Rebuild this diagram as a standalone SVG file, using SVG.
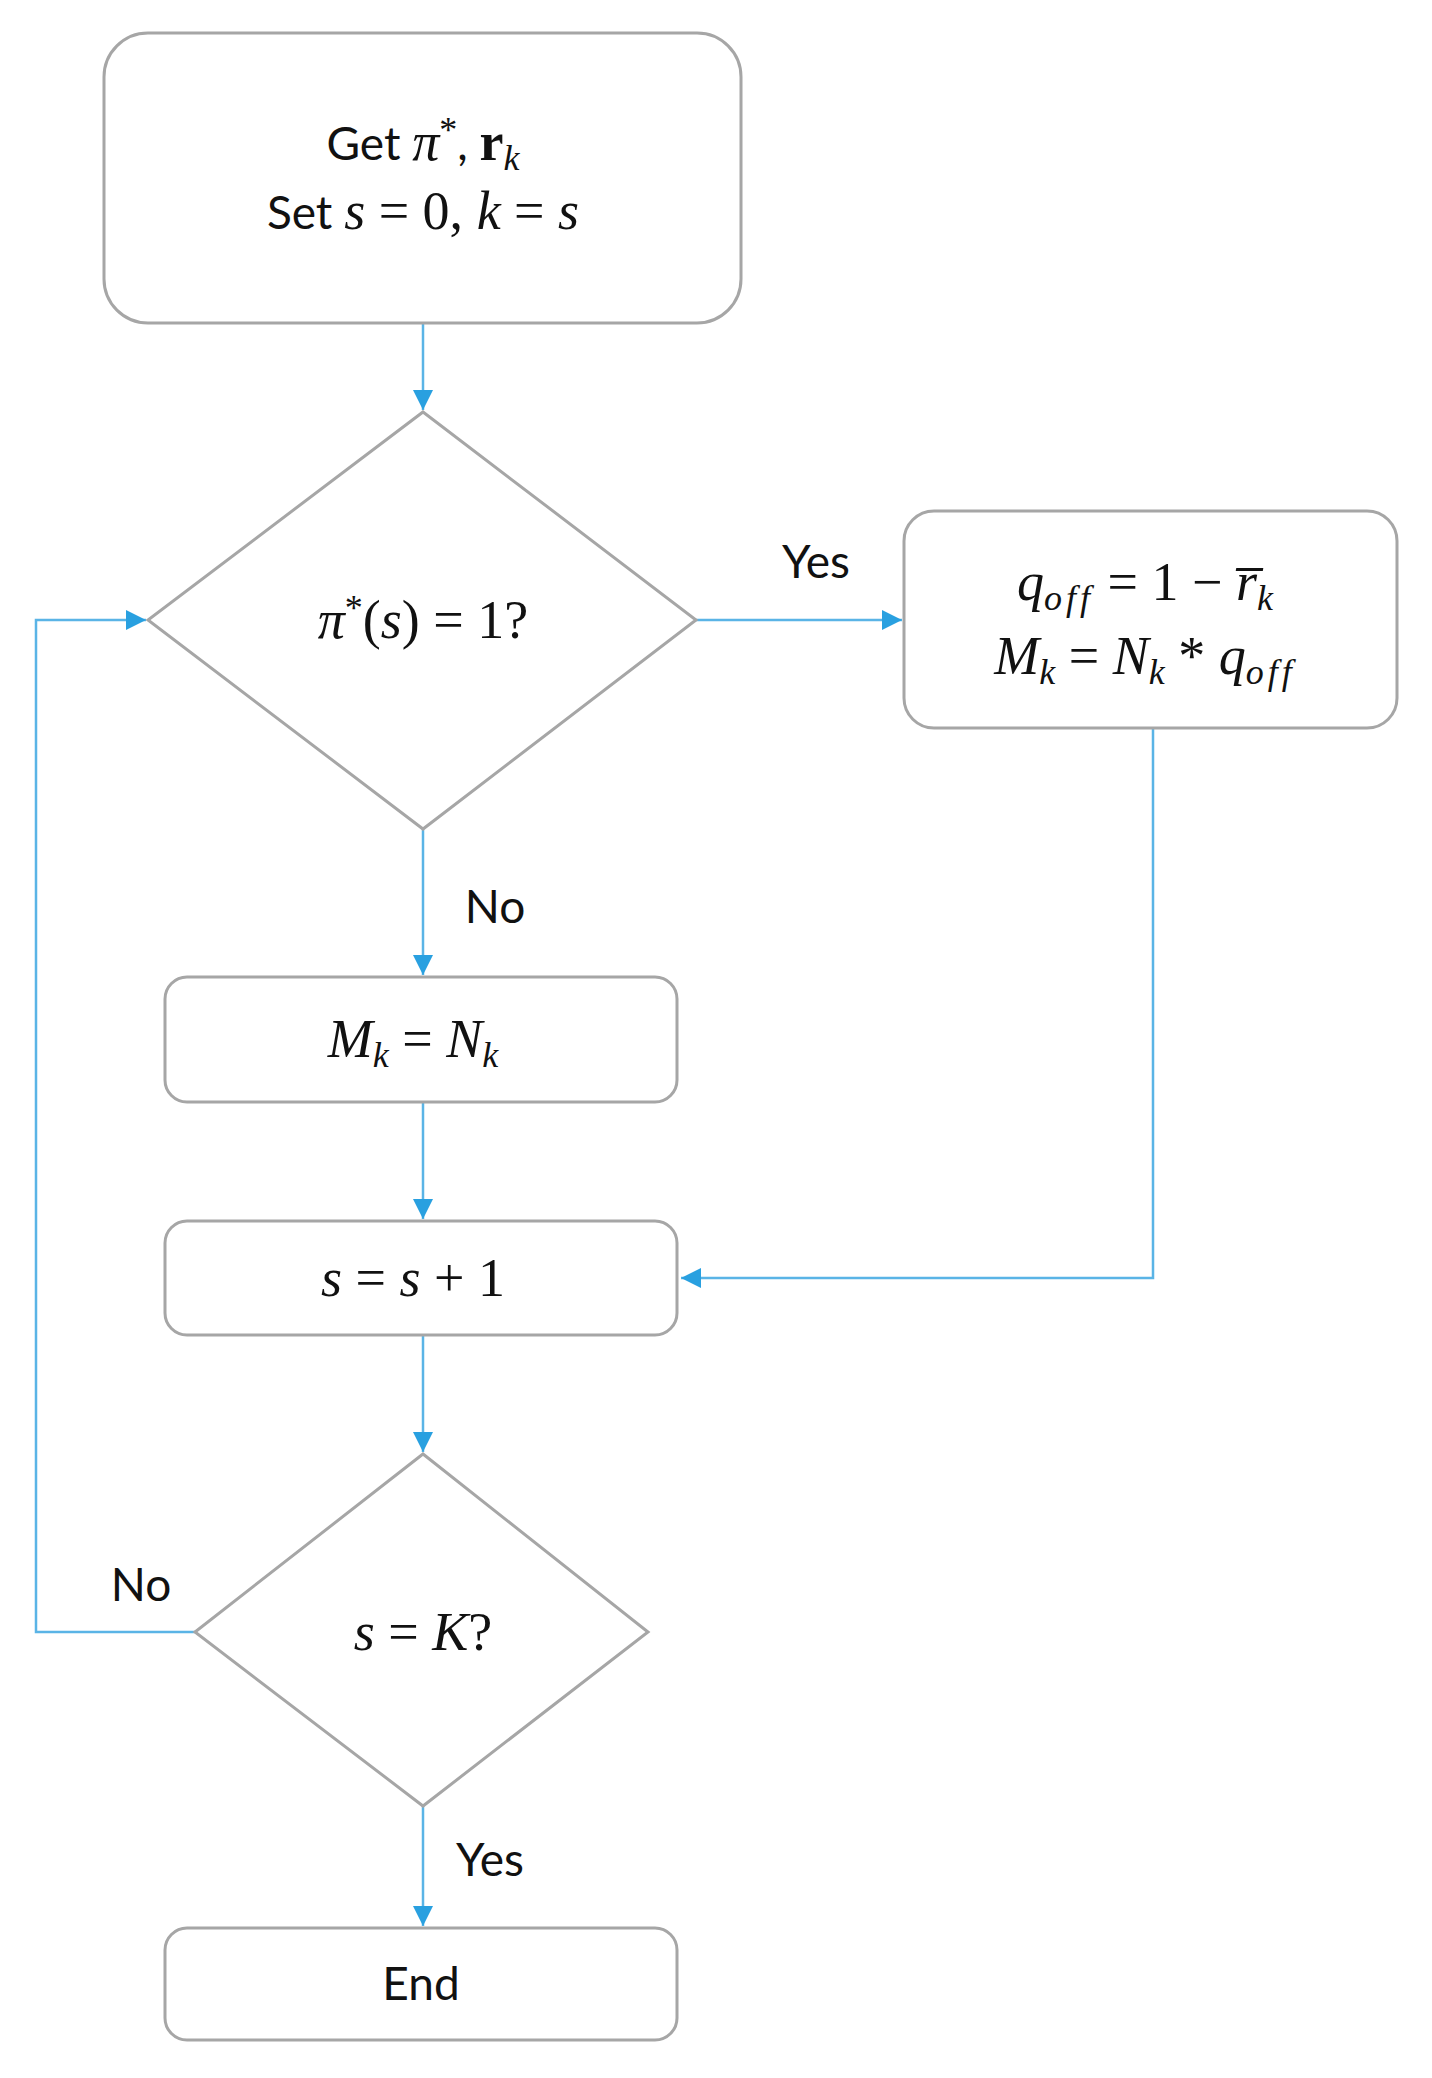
<svg xmlns="http://www.w3.org/2000/svg" width="1432" height="2078" viewBox="0 0 1432 2078">
<defs>
<marker id="ah" viewBox="0 0 10 10" refX="10" refY="5" markerWidth="20" markerHeight="20" markerUnits="userSpaceOnUse" orient="auto"><path d="M0,0 L10,5 L0,10 z" fill="#29A0E0"/></marker>
<style>
.n{fill:#fff;stroke:#A6A6A6;stroke-width:3}
.c{fill:none;stroke:#5AB4E6;stroke-width:2.5;marker-end:url(#ah)}
.t{font-family:Lato,"Open Sans",sans-serif;font-size:46px;fill:#111;text-anchor:middle}
.u{font-family:"Liberation Serif",serif;font-style:normal;font-size:54px}
.m{font-family:"Liberation Serif",serif;font-style:italic;font-size:54px}
.s{font-size:36px}
</style>
</defs>
<rect width="1432" height="2078" fill="#fff"/>
<g id="connectors">
<path class="c" d="M423,323 V410"/>
<path class="c" d="M696,620 H902"/>
<path class="c" d="M423,829 V975"/>
<path class="c" d="M423,1102 V1219"/>
<path class="c" d="M1153,728 V1278 H681"/>
<path class="c" d="M423,1335 V1452"/>
<path class="c" d="M195,1632 H36 V620 H146"/>
<path class="c" d="M423,1806 V1926"/>
<text class="t" x="816" y="578">Yes</text>
<text class="t" x="495" y="923">No</text>
<text class="t" x="141" y="1601">No</text>
<text class="t" x="490" y="1876">Yes</text>
</g>
<g id="start">
<rect class="n" x="104" y="33" width="637" height="290" rx="44"/>
<text class="t" x="423" y="160">Get <tspan class="m">π</tspan><tspan class="u s" dy="-18">*</tspan><tspan dy="18">, </tspan><tspan class="u" font-weight="bold">r</tspan><tspan class="m s" dy="10">k</tspan></text>
<text class="t" x="423" y="229">Set <tspan class="m">s</tspan><tspan class="u"> = 0, </tspan><tspan class="m">k</tspan><tspan class="u"> = </tspan><tspan class="m">s</tspan></text>
</g>
<g id="dec1">
<polygon class="n" points="423,412 696,620 423,829 148,620"/>
<text class="t" x="423" y="638"><tspan class="m">π</tspan><tspan class="u s" dy="-18">*</tspan><tspan class="u" dy="18">(</tspan><tspan class="m">s</tspan><tspan class="u">) = 1?</tspan></text>
</g>
<g id="offload">
<rect class="n" x="904" y="511" width="493" height="217" rx="30"/>
<text class="t" x="1145" y="600"><tspan class="m">q</tspan><tspan class="m s" dy="10" letter-spacing="4">off</tspan><tspan class="u" dy="-10"> = 1 − </tspan><tspan class="m">r̅</tspan><tspan class="m s" dy="10">k</tspan></text>
<text class="t" x="1145" y="674"><tspan class="m">M</tspan><tspan class="m s" dy="10">k</tspan><tspan class="u" dy="-10"> = </tspan><tspan class="m">N</tspan><tspan class="m s" dy="10">k</tspan><tspan class="u" dy="-10"> * </tspan><tspan class="m">q</tspan><tspan class="m s" dy="10" letter-spacing="4">off</tspan></text>
</g>
<g id="mk">
<rect class="n" x="165" y="977" width="512" height="125" rx="22"/>
<text class="t" x="413" y="1057"><tspan class="m">M</tspan><tspan class="m s" dy="10">k</tspan><tspan class="u" dy="-10"> = </tspan><tspan class="m">N</tspan><tspan class="m s" dy="10">k</tspan></text>
</g>
<g id="inc">
<rect class="n" x="165" y="1221" width="512" height="114" rx="22"/>
<text class="t" x="413" y="1296"><tspan class="m">s</tspan><tspan class="u"> = </tspan><tspan class="m">s</tspan><tspan class="u"> + 1</tspan></text>
</g>
<g id="dec2">
<polygon class="n" points="423,1454 648,1632 423,1806 195,1632"/>
<text class="t" x="423" y="1650"><tspan class="m">s</tspan><tspan class="u"> = </tspan><tspan class="m">K</tspan><tspan class="u">?</tspan></text>
</g>
<g id="end">
<rect class="n" x="165" y="1928" width="512" height="112" rx="22"/>
<text class="t" x="421" y="2000">End</text>
</g>
</svg>
